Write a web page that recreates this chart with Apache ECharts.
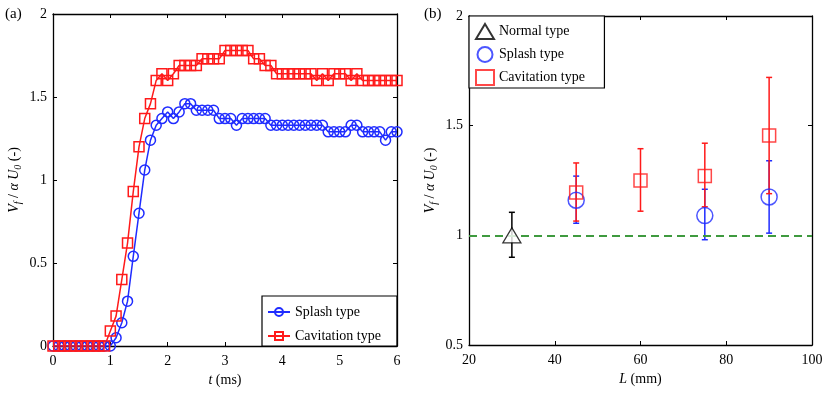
<!DOCTYPE html>
<html>
<head>
<meta charset="utf-8">
<script src="https://cdn.jsdelivr.net/npm/echarts@6/dist/echarts.min.js"></script>
<style>
  html, body { margin: 0; padding: 0; background: #fff; }
  #main { width: 830px; height: 393px; }
</style>
</head>
<body>
<div id="main"></div>
<script>
// (a) time series, t = 0 .. 6 ms every 0.1 ms
var timeMs = [0.0, 0.1, 0.2, 0.3, 0.4, 0.5, 0.6, 0.7, 0.8, 0.9,
  1.0, 1.1, 1.2, 1.3, 1.4, 1.5, 1.6, 1.7, 1.8, 1.9,
  2.0, 2.1, 2.2, 2.3, 2.4, 2.5, 2.6, 2.7, 2.8, 2.9,
  3.0, 3.1, 3.2, 3.3, 3.4, 3.5, 3.6, 3.7, 3.8, 3.9,
  4.0, 4.1, 4.2, 4.3, 4.4, 4.5, 4.6, 4.7, 4.8, 4.9,
  5.0, 5.1, 5.2, 5.3, 5.4, 5.5, 5.6, 5.7, 5.8, 5.9, 6.0];

var splashVals = [0, 0, 0, 0, 0, 0, 0, 0, 0, 0,
  0, 0.05, 0.14, 0.27, 0.54, 0.80, 1.06, 1.24, 1.33, 1.37,
  1.41, 1.37, 1.41, 1.46, 1.46, 1.42, 1.42, 1.42, 1.42, 1.37,
  1.37, 1.37, 1.33, 1.37, 1.37, 1.37, 1.37, 1.37, 1.33, 1.33,
  1.33, 1.33, 1.33, 1.33, 1.33, 1.33, 1.33, 1.33, 1.29, 1.29,
  1.29, 1.29, 1.33, 1.33, 1.29, 1.29, 1.29, 1.29, 1.24, 1.29, 1.29];

var cavitationVals = [0, 0, 0, 0, 0, 0, 0, 0, 0, 0,
  0.09, 0.18, 0.40, 0.62, 0.93, 1.20, 1.37, 1.46, 1.60, 1.64,
  1.60, 1.64, 1.69, 1.69, 1.69, 1.69, 1.73, 1.73, 1.73, 1.73,
  1.78, 1.78, 1.78, 1.78, 1.78, 1.73, 1.73, 1.69, 1.69, 1.64,
  1.64, 1.64, 1.64, 1.64, 1.64, 1.64, 1.60, 1.64, 1.60, 1.64,
  1.64, 1.64, 1.60, 1.64, 1.60, 1.60, 1.60, 1.60, 1.60, 1.60, 1.60];

// (b) mean values with error bar ends, L in mm
var normalL = [30];
var normalMean = [1.0];
var normalLow = [0.90];
var normalHigh = [1.105];

var splashL = [45, 75, 90];
var splashMean = [1.16, 1.09, 1.175];
var splashLow = [1.055, 0.98, 1.01];
var splashHigh = [1.27, 1.21, 1.34];

var cavL = [45, 60, 75, 90];
var cavMean = [1.195, 1.25, 1.27, 1.455];
var cavLow = [1.065, 1.11, 1.13, 1.19];
var cavHigh = [1.33, 1.395, 1.42, 1.72];

var refLevel = 1;

var BLUE = '#1f2cff';
var RED = '#ff1a1a';
var BLACK = '#000';
var GREEN = '#3f9a3f';
var FONT = '"Liberation Serif", "DejaVu Serif", serif';

function pairs(xs, ys) {
  return xs.map(function (x, i) { return [x, ys[i]]; });
}
function bars(xs, lo, hi) {
  return xs.map(function (x, i) { return [x, lo[i], hi[i]]; });
}

function errorBar(color) {
  return function (params, api) {
    var x = api.value(0);
    var bot = api.coord([x, api.value(1)]);
    var top = api.coord([x, api.value(2)]);
    var st = { stroke: color, lineWidth: 1.5 };
    var w = 3;
    return {
      type: 'group',
      children: [
        { type: 'line', shape: { x1: top[0], y1: top[1], x2: bot[0], y2: bot[1] }, style: st },
        { type: 'line', shape: { x1: top[0] - w, y1: top[1], x2: top[0] + w, y2: top[1] }, style: st },
        { type: 'line', shape: { x1: bot[0] - w, y1: bot[1], x2: bot[0] + w, y2: bot[1] }, style: st }
      ]
    };
  };
}

var labelStyle = { color: BLACK, fontFamily: FONT, fontSize: 14 };
var nameRich = {
  i: { fontFamily: FONT, fontSize: 14, fontStyle: 'italic', color: BLACK },
  n: { fontFamily: FONT, fontSize: 14, color: BLACK },
  sub: { fontFamily: FONT, fontSize: 10, fontStyle: 'italic', color: BLACK, padding: [8, 0, 0, 0] }
};

function mainX(gi, min, max, interval, name) {
  return {
    gridIndex: gi, type: 'value', min: min, max: max, interval: interval,
    name: name, nameLocation: 'middle', nameGap: 26,
    nameTextStyle: { rich: nameRich },
    axisLine: { lineStyle: { color: BLACK, width: 1.3 } },
    axisTick: { inside: true, length: 4, lineStyle: { color: BLACK } },
    axisLabel: labelStyle,
    splitLine: { show: false }
  };
}
function mainY(gi, min, max, interval, name) {
  return {
    gridIndex: gi, type: 'value', min: min, max: max, interval: interval,
    name: name, nameLocation: 'middle', nameGap: 30, nameRotate: 90,
    nameTextStyle: { rich: nameRich },
    axisLine: { lineStyle: { color: BLACK, width: 1.3 } },
    axisTick: { inside: true, length: 4, lineStyle: { color: BLACK } },
    axisLabel: Object.assign({ margin: 6 }, labelStyle),
    splitLine: { show: false }
  };
}
function boxAxis(gi, min, max, interval, pos) {
  return {
    gridIndex: gi, type: 'value', min: min, max: max, interval: interval, position: pos,
    axisLine: { show: true, onZero: false, lineStyle: { color: BLACK, width: 1.3 } },
    axisTick: { show: true, inside: true, length: 4, lineStyle: { color: BLACK } },
    axisLabel: { show: false },
    splitLine: { show: false }
  };
}

var chart = echarts.init(document.getElementById('main'));
chart.setOption({
  animation: false,
  backgroundColor: '#fff',
  textStyle: { fontFamily: FONT },
  title: [
    { text: '(a)', left: 0, top: 2, textStyle: { fontFamily: FONT, fontSize: 15, fontWeight: 'normal', color: BLACK } },
    { text: '(b)', left: 419, top: 2, textStyle: { fontFamily: FONT, fontSize: 15, fontWeight: 'normal', color: BLACK } }
  ],
  grid: [
    { left: 53, right: 433, top: 14, bottom: 47 },
    { left: 469, right: 18, top: 16, bottom: 48 }
  ],
  xAxis: [
    mainX(0, 0, 6, 1, '{i|t}{n| (ms)}'),
    boxAxis(0, 0, 6, 1, 'top'),
    mainX(1, 20, 100, 20, '{i|L}{n| (mm)}'),
    boxAxis(1, 20, 100, 20, 'top')
  ],
  yAxis: [
    mainY(0, 0, 2, 0.5, '{i|V}{sub|f}{n| / }{i|α U}{sub|0}{n| (-)}'),
    boxAxis(0, 0, 2, 0.5, 'right'),
    mainY(1, 0.5, 2, 0.5, '{i|V}{sub|f}{n| / }{i|α U}{sub|0}{n| (-)}'),
    boxAxis(1, 0.5, 2, 0.5, 'right')
  ],
  legend: [
    {
      data: ['Splash type', 'Cavitation type'],
      orient: 'vertical', left: 262, top: 296,
      padding: [9, 16, 3, 5], itemGap: 10, itemWidth: 22, itemHeight: 10,
      backgroundColor: '#fff', borderColor: BLACK, borderWidth: 1.2, borderRadius: 0,
      textStyle: { fontFamily: FONT, fontSize: 14, color: BLACK }
    },
    {
      data: ['Normal type', 'Splash type ', 'Cavitation type '],
      orient: 'vertical', left: 469, top: 16,
      padding: [7, 16, 2, 6], itemGap: 6, itemWidth: 18, itemHeight: 15,
      backgroundColor: '#fff', borderColor: BLACK, borderWidth: 1.2, borderRadius: 0,
      textStyle: { fontFamily: FONT, fontSize: 14, color: BLACK }
    }
  ],
  series: [
    {
      name: 'Splash type', type: 'line', xAxisIndex: 0, yAxisIndex: 0,
      data: pairs(timeMs, splashVals),
      symbol: 'circle', symbolSize: 10,
      lineStyle: { color: BLUE, width: 1.5 },
      itemStyle: { color: 'rgba(0,0,0,0)', borderColor: BLUE, borderWidth: 1.5 }
    },
    {
      name: 'Cavitation type', type: 'line', xAxisIndex: 0, yAxisIndex: 0,
      data: pairs(timeMs, cavitationVals),
      symbol: 'rect', symbolSize: 10,
      lineStyle: { color: RED, width: 1.5 },
      itemStyle: { color: 'rgba(0,0,0,0)', borderColor: RED, borderWidth: 1.5 }
    },
    {
      type: 'custom', xAxisIndex: 2, yAxisIndex: 2,
      renderItem: errorBar(BLACK), data: bars(normalL, normalLow, normalHigh), z: 3
    },
    {
      type: 'custom', xAxisIndex: 2, yAxisIndex: 2,
      renderItem: errorBar(BLUE), data: bars(splashL, splashLow, splashHigh), z: 3
    },
    {
      type: 'custom', xAxisIndex: 2, yAxisIndex: 2,
      renderItem: errorBar(RED), data: bars(cavL, cavLow, cavHigh), z: 4
    },
    {
      name: 'Normal type', type: 'scatter', xAxisIndex: 2, yAxisIndex: 2,
      data: pairs(normalL, normalMean),
      symbol: 'triangle', symbolSize: [18, 15], z: 5,
      itemStyle: { color: '#fff', borderColor: BLACK, borderWidth: 1.3 },
      markLine: {
        silent: true, symbol: 'none', label: { show: false },
        lineStyle: { color: GREEN, type: [8, 5], width: 2 },
        data: [{ yAxis: refLevel }]
      }
    },
    {
      name: 'Splash type ', type: 'scatter', xAxisIndex: 2, yAxisIndex: 2,
      data: pairs(splashL, splashMean),
      symbol: 'circle', symbolSize: 16, z: 5,
      itemStyle: { color: 'rgba(0,0,0,0)', borderColor: BLUE, borderWidth: 1.5 }
    },
    {
      name: 'Cavitation type ', type: 'scatter', xAxisIndex: 2, yAxisIndex: 2,
      data: pairs(cavL, cavMean),
      symbol: 'rect', symbolSize: 13, z: 6,
      itemStyle: { color: 'rgba(0,0,0,0)', borderColor: RED, borderWidth: 1.5 }
    }
  ]
});
</script>
</body>
</html>
